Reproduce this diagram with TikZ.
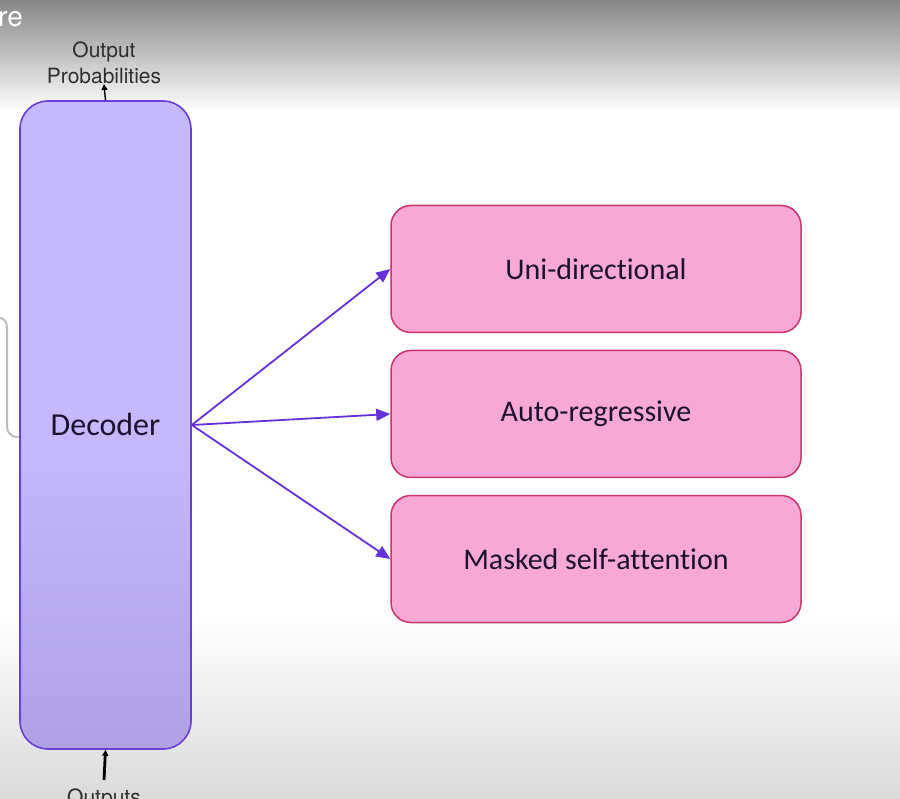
\documentclass[tikz,border=0pt]{standalone}
\usepackage{fontspec}
\setmainfont[Ligatures=NoCommon]{Carlito}
\newfontfamily\labelfont{TeX Gyre Heros}
\usetikzlibrary{arrows.meta}
\definecolor{bgtop}{HTML}{878787}
\definecolor{bgbot}{HTML}{DADADA}
\definecolor{decfillA}{HTML}{C5B8FC}
\definecolor{decfillB}{HTML}{AFA1E4}
\definecolor{decline}{HTML}{6A3ED6}
\definecolor{pinkfill}{HTML}{F8A8D5}
\definecolor{pinkline}{HTML}{C8346C}
\definecolor{arrowcol}{HTML}{6532DA}
\definecolor{textdark}{HTML}{1C1230}
\definecolor{labelgray}{HTML}{2E2E2E}
\definecolor{bracketgray}{HTML}{BDBDBD}
\tikzset{
  decbox/.style={draw=decline, line width=1.6pt, rounded corners=28pt,
    top color=decfillA, bottom color=decfillB, middle color=decfillA,
    minimum width=171pt, minimum height=648pt, inner sep=0pt,
    text=textdark, font=\fontsize{32}{38}\selectfont},
  pinkbox/.style={draw=pinkline, fill=pinkfill, line width=1.5pt, rounded corners=20pt,
    minimum width=410pt, minimum height=127pt, inner sep=0pt,
    text=textdark, font=\fontsize{30}{36}\selectfont},
  fanarrow/.style={draw=arrowcol, line width=1.8pt, -{Triangle[length=14pt,width=12pt]}},
  smalllabel/.style={text=labelgray, align=center, inner sep=0pt,
    font=\labelfont\fontsize{21}{26}\selectfont},
  blackarrow/.style={draw=black, -{Triangle[length=6pt,width=6pt]}}
}
\begin{document}
\begin{tikzpicture}[x=1pt,y=-1pt]
\useasboundingbox (0,0) rectangle (900,799);
% background
\fill[white] (0,0) rectangle (900,799);
\shade[top color=bgtop, bottom color=white] (0,0) rectangle (900,112);
\shade[top color=white, bottom color=bgbot] (0,615) rectangle (900,799);
% partial title
\node[anchor=base west, inner sep=0pt, text=white, font=\labelfont\fontsize{28}{30}\selectfont] (title) at (-2,27) {re};
% gray bracket
\draw[bracketgray, line width=2pt] (0,318) to[out=0,in=90] (7,328) -- (7,427) to[out=-90,in=180] (17,437) -- (20,437);
% decoder
\node[decbox] (dec) at (105.5,425) {Decoder};
% pink boxes
\node[pinkbox] (b1) at (596,269) {Uni-directional};
\node[pinkbox] (b2) at (596,414) {Auto-regressive};
\node[pinkbox] (b3) at (596,559) {Masked self-attention};
% arrows
\draw[fanarrow] (dec.east) -- (b1.west);
\draw[fanarrow] (dec.east) -- (b2.west);
\draw[fanarrow] (dec.east) -- (b3.west);
% top label
\node[smalllabel, anchor=south] (op) at (104,84) {Output\\Probabilities};
\draw[blackarrow, line width=1.4pt] (dec.north) -- (op.south);
% bottom label
\node[smalllabel, anchor=north] (outs) at (104,789) {Outputs};
\coordinate (inbot) at (104,780);
\draw[blackarrow, line width=2.8pt] (inbot) -- (dec.south);
\end{tikzpicture}
\end{document}
